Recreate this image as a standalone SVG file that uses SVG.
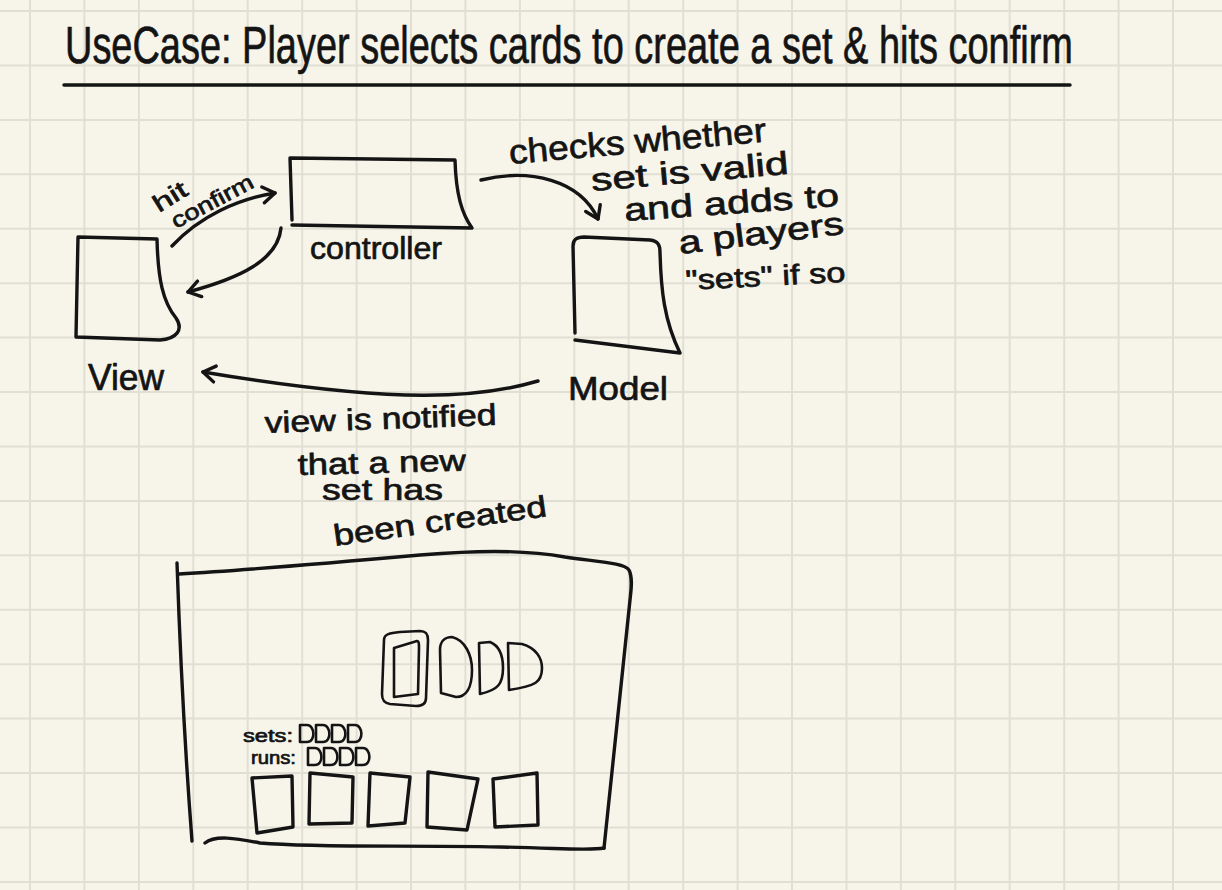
<svg xmlns="http://www.w3.org/2000/svg" width="1222" height="890" viewBox="0 0 1222 890">
  <style>
    .ink { fill: none; stroke: #141414; stroke-width: 3.4; stroke-linecap: round; stroke-linejoin: round; }
    .thin { stroke-width: 2.6; }
    .hand { font-family: "Liberation Sans", "DejaVu Sans", sans-serif; fill: #141414; stroke: #141414; stroke-width: 0.7; stroke-linejoin: round; }
    .grid { stroke: #e1dfd3; stroke-width: 2; fill: none; }
  </style>
  <defs>
    <marker id="vhead" viewBox="-14 -10 16 20" refX="0" refY="0" markerWidth="16" markerHeight="20" markerUnits="userSpaceOnUse" orient="auto">
      <path d="M-12,-8 L0,0 L-12,8" fill="none" stroke="#141414" stroke-width="3.4" stroke-linecap="round" stroke-linejoin="round"/>
    </marker>
    <path id="miniCard" d="M0,17 L0,0 L7,0 C15,0 16,17 7,17 Z"/>
  </defs>

  <!-- paper -->
  <rect width="1222" height="890" fill="#f7f5ea"/>
  <path class="grid" d="M30,0V890 M84.4,0V890 M138.9,0V890 M193.3,0V890 M247.7,0V890 M302.2,0V890 M356.6,0V890 M411,0V890 M465.4,0V890 M519.9,0V890 M574.3,0V890 M628.7,0V890 M683.2,0V890 M737.6,0V890 M792,0V890 M846.5,0V890 M900.9,0V890 M955.3,0V890 M1009.7,0V890 M1064.2,0V890 M1118.6,0V890 M1173,0V890
    M0,11H1222 M0,65.4H1222 M0,119.9H1222 M0,174.3H1222 M0,228.7H1222 M0,283.2H1222 M0,337.6H1222 M0,392H1222 M0,446.4H1222 M0,500.9H1222 M0,555.3H1222 M0,609.7H1222 M0,664.2H1222 M0,718.6H1222 M0,773H1222 M0,827.5H1222 M0,881.9H1222"/>

  <!-- heading: narrow, tall lettering -->
  <g id="title">
    <text class="hand" transform="translate(65,63) scale(0.74,1)" font-size="52" textLength="1362" lengthAdjust="spacingAndGlyphs">UseCase: Player selects cards to create a set &amp; hits confirm</text>
    <path class="ink" d="M64,85 L1070,85" stroke-width="2.6"/>
  </g>

  <!-- view -->
  <g id="view">
    <path class="ink" d="M78,237 L157,239 C158,280 163,302 176,318 C184,330 176,339 160,340 L76,337 Z"/>
    <text class="hand" x="88" y="390" font-size="36" textLength="76" lengthAdjust="spacingAndGlyphs">View</text>
  </g>

  <!-- controller -->
  <g id="controller">
    <path class="ink" d="M292,220 L290,158 L455,160 C456,195 462,214 472,228 L292,225"/>
    <text class="hand" x="310" y="259" font-size="32" textLength="132" lengthAdjust="spacingAndGlyphs">controller</text>
  </g>

  <!-- model -->
  <g id="model">
    <path class="ink" d="M575,333 L573,246 C573,239 577,237 584,237 L650,240 C658,241 660,245 660,252 C661,290 664,320 680,353 L575,340"/>
    <text class="hand" x="568" y="400" font-size="34" textLength="100" lengthAdjust="spacingAndGlyphs">Model</text>
  </g>

  <!-- connectors -->
  <g id="connectors">
    <path class="ink" d="M172,246 C200,216 238,199 275,193" marker-end="url(#vhead)"/>
    <path class="ink" d="M281,228 C278,260 240,278 188,292" marker-end="url(#vhead)"/>
    <path class="ink" d="M481,180 C530,168 580,180 598,219" marker-end="url(#vhead)"/>
    <path class="ink" d="M538,381 C480,398 400,405 203,372" marker-end="url(#vhead)"/>
  </g>

  <!-- connector notes -->
  <g id="note-hit-confirm">
    <text class="hand" font-size="24" transform="translate(159,213) rotate(-32)" textLength="36" lengthAdjust="spacingAndGlyphs">hit</text>
    <text class="hand" font-size="22" transform="translate(176,229) rotate(-28)" textLength="90" lengthAdjust="spacingAndGlyphs">confirm</text>
  </g>

  <g id="note-model">
    <text class="hand" font-size="34" transform="translate(510,164) rotate(-5)" textLength="258" lengthAdjust="spacingAndGlyphs">checks whether</text>
    <text class="hand" font-size="32" transform="translate(592,191) rotate(-5)" textLength="198" lengthAdjust="spacingAndGlyphs">set is valid</text>
    <text class="hand" font-size="32" transform="translate(625,221) rotate(-4)" textLength="215" lengthAdjust="spacingAndGlyphs">and adds to</text>
    <text class="hand" font-size="32" transform="translate(680,254) rotate(-7)" textLength="166" lengthAdjust="spacingAndGlyphs">a players</text>
    <text class="hand" font-size="28" transform="translate(686,290) rotate(-3)" textLength="160" lengthAdjust="spacingAndGlyphs">"sets" if so</text>
  </g>

  <g id="note-notify">
    <text class="hand" font-size="30" transform="translate(265,433) rotate(-2)" textLength="232" lengthAdjust="spacingAndGlyphs">view is notified</text>
    <text class="hand" font-size="30" transform="translate(298,475) rotate(-1.5)" textLength="168" lengthAdjust="spacingAndGlyphs">that a new</text>
    <text class="hand" font-size="30" transform="translate(322,500)" textLength="121" lengthAdjust="spacingAndGlyphs">set has</text>
    <text class="hand" font-size="30" transform="translate(335,546) rotate(-8)" textLength="215" lengthAdjust="spacingAndGlyphs">been created</text>
  </g>

  <!-- game screen sketch -->
  <g id="screen">
    <path class="ink" d="M177,563 C180,650 185,750 192,841"/>
    <path class="ink" d="M179,574 C250,570 330,563 420,555 C470,551 520,549 565,557 C600,562 625,563 629,570 C633,578 631,590 630,600 L604,848"/>
    <path class="ink" d="M205,843 C215,835 235,838 260,843 C320,848 400,845 500,847 C560,848 590,851 604,848"/>

    <!-- selected card and pile -->
    <path class="ink thin" d="M384,640 C384,634 390,633 400,632 L420,631 C426,631 428,634 428,640 L426,698 C426,704 422,706 416,706 L390,704 C384,703 382,700 382,694 Z"/>
    <path class="ink thin" d="M394,648 L417,641 C419,641 419,644 419,648 L418,694 L394,697 Z"/>
    <path class="ink thin" d="M441,693 L440,650 C440,641 445,637 452,637 C465,640 472,655 472,670 C472,688 466,697 456,697 Z"/>
    <path class="ink thin" d="M480,694 L479,643 L490,642 C500,646 503,656 503,668 C503,684 498,690 480,694 Z"/>
    <path class="ink thin" d="M509,690 L508,643 L522,644 C536,648 542,658 542,668 C542,682 536,686 509,690 Z"/>

    <!-- melds -->
    <text class="hand" x="243" y="742" font-size="18" textLength="50" lengthAdjust="spacingAndGlyphs">sets:</text>
    <text class="hand" x="251" y="764" font-size="18" textLength="45" lengthAdjust="spacingAndGlyphs">runs:</text>
    <g class="ink thin">
      <use href="#miniCard" x="300" y="725"/>
      <use href="#miniCard" x="316" y="725"/>
      <use href="#miniCard" x="332" y="725"/>
      <use href="#miniCard" x="348" y="725"/>
      <use href="#miniCard" x="308" y="748"/>
      <use href="#miniCard" x="324" y="748"/>
      <use href="#miniCard" x="340" y="748"/>
      <use href="#miniCard" x="356" y="748"/>
    </g>

    <!-- hand -->
    <path class="ink" d="M252,778 L292,776 L293,827 L257,833 Z"/>
    <path class="ink" d="M310,773 L353,777 L352,823 L309,824 Z"/>
    <path class="ink" d="M370,773 L410,777 L405,823 L368,826 Z"/>
    <path class="ink" d="M428,772 L478,779 L467,830 L427,827 Z"/>
    <path class="ink" d="M493,779 L537,773 L538,825 L495,827 Z"/>
  </g>
</svg>
